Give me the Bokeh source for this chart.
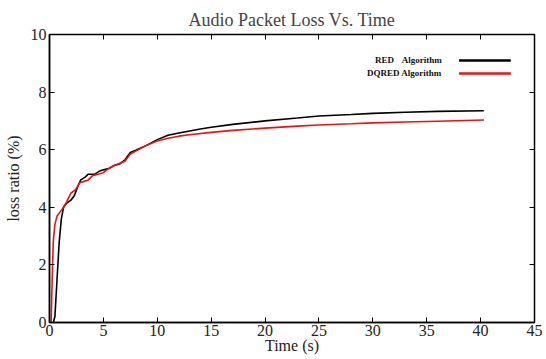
from bokeh.plotting import figure
from bokeh.models import LinearAxis, Label, Arrow, Range1d, FixedTicker
from bokeh.embed import file_html
from bokeh.resources import INLINE

# Data
red_t = [0.35, 0.5, 0.7, 0.9, 1.1, 1.3, 1.6, 2.0, 2.3, 2.6, 2.9, 3.3, 3.6, 4.2, 4.6, 5.0, 5.5, 6.0,
         6.5, 7.0, 7.5, 8.0, 9.0, 10.0, 11.0, 12.0, 13.0, 14.0, 15.0, 17.0, 20.0, 23.0, 25.0, 28.0,
         30.0, 33.0, 36.0, 40.3]
red_loss = [0.0, 0.2, 1.5, 2.8, 3.6, 4.0, 4.15, 4.25, 4.4, 4.7, 4.95, 5.05, 5.15, 5.15, 5.25, 5.3,
            5.35, 5.45, 5.5, 5.65, 5.9, 5.98, 6.15, 6.35, 6.5, 6.58, 6.65, 6.72, 6.78, 6.88, 7.0,
            7.1, 7.17, 7.22, 7.26, 7.3, 7.33, 7.35]

dqred_t = [0.15, 0.25, 0.35, 0.5, 0.7, 1.0, 1.3, 1.6, 2.0, 2.4, 2.8, 3.2, 3.6, 4.0, 4.5, 5.0, 5.5,
           6.0, 7.0, 7.5, 8.0, 9.0, 10.0, 11.0, 12.0, 13.0, 15.0, 17.0, 20.0, 23.0, 25.0, 28.0,
           30.0, 33.0, 36.0, 40.3]
dqred_loss = [0.0, 1.5, 2.8, 3.4, 3.7, 3.85, 4.0, 4.2, 4.5, 4.6, 4.85, 4.9, 4.95, 5.1, 5.15, 5.2,
              5.35, 5.45, 5.6, 5.85, 5.95, 6.15, 6.3, 6.4, 6.47, 6.52, 6.6, 6.67, 6.75, 6.82,
              6.86, 6.9, 6.93, 6.96, 6.99, 7.03]

x_ticks = [0, 5, 10, 15, 20, 25, 30, 35, 40, 45]
y_ticks = [0, 2, 4, 6, 8, 10]

FONT = "Liberation Serif"

p = figure(width=546, height=359, output_backend="svg", toolbar_location=None,
           x_range=Range1d(0, 45), y_range=Range1d(0, 10),
           min_border_left=49, min_border_right=12, min_border_top=34, min_border_bottom=37,
           x_axis_label="Time (s)", y_axis_label="loss ratio (%)")
p.title.text = "Audio Packet Loss Vs. Time"
p.title.align = "center"
p.title.text_font = FONT
p.title.text_font_size = "18px"
p.title.text_font_style = "normal"
p.title.offset = -8
p.xgrid.visible = False
p.ygrid.visible = False
p.outline_line_color = "black"
p.outline_line_width = 1.5
p.background_fill_color = "white"
p.border_fill_color = "white"

for ax, ticks in ((p.xaxis[0], x_ticks), (p.yaxis[0], y_ticks)):
    ax.ticker = FixedTicker(ticks=ticks)
    ax.major_tick_in = 5
    ax.major_tick_out = 0
    ax.minor_tick_line_color = None
    ax.axis_line_color = "black"
    ax.axis_line_width = 1.5
    ax.major_label_text_font = FONT
    ax.major_label_text_font_size = "16px"
    ax.major_label_text_color = "#222222"
    ax.axis_label_text_font = FONT
    ax.axis_label_text_font_size = "16px"
    ax.axis_label_text_font_style = "normal"
    ax.axis_label_text_color = "#222222"
p.xaxis[0].major_label_standoff = 2
p.xaxis[0].axis_label_standoff = -2
p.yaxis[0].major_label_standoff = 3
p.yaxis[0].axis_label_standoff = 6

top = LinearAxis(ticker=FixedTicker(ticks=x_ticks),
                 major_label_overrides={t: "" for t in x_ticks},
                 major_tick_in=5, major_tick_out=0, minor_tick_line_color=None,
                 axis_line_color="black", major_label_standoff=0)
right = LinearAxis(ticker=FixedTicker(ticks=y_ticks),
                   major_label_overrides={t: "" for t in y_ticks},
                   major_tick_in=5, major_tick_out=0, minor_tick_line_color=None,
                   axis_line_color="black", major_label_standoff=0)
p.add_layout(top, "above")
p.add_layout(right, "right")

p.line(red_t, red_loss, line_color="black", line_width=1.6)
p.line(dqred_t, dqred_loss, line_color="#ee1111", line_width=1.6)

# Custom legend (text left, line sample right)
lab_kw = dict(text_font=FONT, text_font_size="9px", text_font_style="bold",
              text_color="#111111", text_baseline="middle")
p.add_layout(Label(x=30.2, y=9.13, text="RED", text_align="left", **lab_kw))
p.add_layout(Label(x=36.4, y=9.13, text="Algorithm", text_align="right", **lab_kw))
p.add_layout(Label(x=36.4, y=8.68, text="DQRED Algorithm", text_align="right", **lab_kw))
p.add_layout(Arrow(end=None, x_start=38.0, y_start=9.1, x_end=42.8, y_end=9.1,
                   line_color="black", line_width=2.5))
p.add_layout(Arrow(end=None, x_start=38.0, y_start=8.65, x_end=42.8, y_end=8.65,
                   line_color="#ee1111", line_width=2.5))

open("out.html", "w").write(file_html(p, INLINE))
